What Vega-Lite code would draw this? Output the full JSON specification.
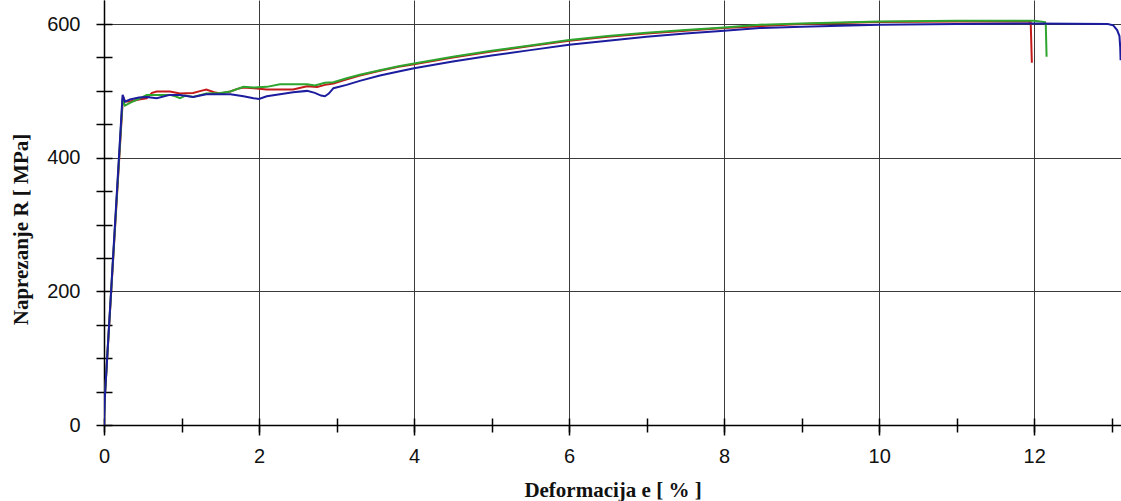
{
  "$schema": "https://vega.github.io/schema/vega-lite/v6.json",
  "autosize": "none",
  "width": 1017,
  "height": 425,
  "padding": {"left": 104, "top": 0, "right": 0, "bottom": 76},
  "background": "white",
  "config": {"view": {"stroke": null}},
  "data": {"values": [
    {"s": "1 red", "e": 0, "R": 0}, {"s": "1 red", "e": 0.01, "R": 40}, {"s": "1 red", "e": 0.245, "R": 492}, {"s": "1 red", "e": 0.27, "R": 484}, {"s": "1 red", "e": 0.335, "R": 484}, {"s": "1 red", "e": 0.45, "R": 487}, {"s": "1 red", "e": 0.55, "R": 489}, {"s": "1 red", "e": 0.62, "R": 497}, {"s": "1 red", "e": 0.68, "R": 499}, {"s": "1 red", "e": 0.85, "R": 499}, {"s": "1 red", "e": 0.98, "R": 496}, {"s": "1 red", "e": 1.15, "R": 497}, {"s": "1 red", "e": 1.25, "R": 500}, {"s": "1 red", "e": 1.32, "R": 502}, {"s": "1 red", "e": 1.42, "R": 498}, {"s": "1 red", "e": 1.5, "R": 496}, {"s": "1 red", "e": 1.63, "R": 499}, {"s": "1 red", "e": 1.72, "R": 503}, {"s": "1 red", "e": 1.8, "R": 505}, {"s": "1 red", "e": 1.93, "R": 504}, {"s": "1 red", "e": 2.1, "R": 502}, {"s": "1 red", "e": 2.27, "R": 502}, {"s": "1 red", "e": 2.44, "R": 502}, {"s": "1 red", "e": 2.62, "R": 507}, {"s": "1 red", "e": 2.75, "R": 506}, {"s": "1 red", "e": 2.85, "R": 509}, {"s": "1 red", "e": 2.96, "R": 511}, {"s": "1 red", "e": 3.09, "R": 516}, {"s": "1 red", "e": 3.3, "R": 523}, {"s": "1 red", "e": 3.56, "R": 530}, {"s": "1 red", "e": 3.8, "R": 536}, {"s": "1 red", "e": 4, "R": 540}, {"s": "1 red", "e": 4.5, "R": 550}, {"s": "1 red", "e": 5, "R": 559}, {"s": "1 red", "e": 5.5, "R": 567}, {"s": "1 red", "e": 6, "R": 575}, {"s": "1 red", "e": 6.5, "R": 581}, {"s": "1 red", "e": 7, "R": 586}, {"s": "1 red", "e": 7.5, "R": 590}, {"s": "1 red", "e": 8, "R": 594}, {"s": "1 red", "e": 9, "R": 600}, {"s": "1 red", "e": 10, "R": 603}, {"s": "1 red", "e": 11, "R": 604}, {"s": "1 red", "e": 11.5, "R": 604}, {"s": "1 red", "e": 11.9, "R": 604}, {"s": "1 red", "e": 11.955, "R": 603}, {"s": "1 red", "e": 11.962, "R": 575}, {"s": "1 red", "e": 11.97, "R": 542},
    {"s": "2 green", "e": 0, "R": 0}, {"s": "2 green", "e": 0.01, "R": 40}, {"s": "2 green", "e": 0.24, "R": 488}, {"s": "2 green", "e": 0.27, "R": 478}, {"s": "2 green", "e": 0.335, "R": 482}, {"s": "2 green", "e": 0.45, "R": 488}, {"s": "2 green", "e": 0.55, "R": 494}, {"s": "2 green", "e": 0.68, "R": 494}, {"s": "2 green", "e": 0.85, "R": 494}, {"s": "2 green", "e": 0.92, "R": 492}, {"s": "2 green", "e": 0.98, "R": 489}, {"s": "2 green", "e": 1.05, "R": 493}, {"s": "2 green", "e": 1.15, "R": 491}, {"s": "2 green", "e": 1.25, "R": 494}, {"s": "2 green", "e": 1.32, "R": 496}, {"s": "2 green", "e": 1.5, "R": 497}, {"s": "2 green", "e": 1.63, "R": 499}, {"s": "2 green", "e": 1.8, "R": 506}, {"s": "2 green", "e": 1.93, "R": 505}, {"s": "2 green", "e": 2.1, "R": 506}, {"s": "2 green", "e": 2.27, "R": 510}, {"s": "2 green", "e": 2.44, "R": 510}, {"s": "2 green", "e": 2.53, "R": 510}, {"s": "2 green", "e": 2.62, "R": 510}, {"s": "2 green", "e": 2.72, "R": 508}, {"s": "2 green", "e": 2.85, "R": 512}, {"s": "2 green", "e": 2.96, "R": 513}, {"s": "2 green", "e": 3.13, "R": 519}, {"s": "2 green", "e": 3.3, "R": 524}, {"s": "2 green", "e": 3.56, "R": 531}, {"s": "2 green", "e": 3.8, "R": 537}, {"s": "2 green", "e": 4, "R": 541}, {"s": "2 green", "e": 4.5, "R": 551}, {"s": "2 green", "e": 5, "R": 560}, {"s": "2 green", "e": 5.5, "R": 568}, {"s": "2 green", "e": 6, "R": 576}, {"s": "2 green", "e": 6.5, "R": 582}, {"s": "2 green", "e": 7, "R": 587}, {"s": "2 green", "e": 7.5, "R": 591}, {"s": "2 green", "e": 8, "R": 595}, {"s": "2 green", "e": 8.46, "R": 599}, {"s": "2 green", "e": 9, "R": 601}, {"s": "2 green", "e": 10, "R": 604}, {"s": "2 green", "e": 11, "R": 605}, {"s": "2 green", "e": 11.5, "R": 605}, {"s": "2 green", "e": 12, "R": 605}, {"s": "2 green", "e": 12.14, "R": 603}, {"s": "2 green", "e": 12.15, "R": 598}, {"s": "2 green", "e": 12.16, "R": 551},
    {"s": "3 blue", "e": 0, "R": 0}, {"s": "3 blue", "e": 0.01, "R": 40}, {"s": "3 blue", "e": 0.24, "R": 494}, {"s": "3 blue", "e": 0.27, "R": 484}, {"s": "3 blue", "e": 0.335, "R": 487}, {"s": "3 blue", "e": 0.45, "R": 490}, {"s": "3 blue", "e": 0.55, "R": 491}, {"s": "3 blue", "e": 0.68, "R": 489}, {"s": "3 blue", "e": 0.85, "R": 494}, {"s": "3 blue", "e": 0.98, "R": 494}, {"s": "3 blue", "e": 1.15, "R": 491}, {"s": "3 blue", "e": 1.32, "R": 495}, {"s": "3 blue", "e": 1.5, "R": 495}, {"s": "3 blue", "e": 1.63, "R": 495}, {"s": "3 blue", "e": 1.8, "R": 492}, {"s": "3 blue", "e": 1.93, "R": 489}, {"s": "3 blue", "e": 2.0, "R": 488}, {"s": "3 blue", "e": 2.1, "R": 492}, {"s": "3 blue", "e": 2.27, "R": 495}, {"s": "3 blue", "e": 2.44, "R": 498}, {"s": "3 blue", "e": 2.62, "R": 500}, {"s": "3 blue", "e": 2.72, "R": 497}, {"s": "3 blue", "e": 2.8, "R": 493}, {"s": "3 blue", "e": 2.85, "R": 492}, {"s": "3 blue", "e": 2.9, "R": 496}, {"s": "3 blue", "e": 2.96, "R": 504}, {"s": "3 blue", "e": 3.13, "R": 509}, {"s": "3 blue", "e": 3.3, "R": 515}, {"s": "3 blue", "e": 3.56, "R": 523}, {"s": "3 blue", "e": 3.8, "R": 529}, {"s": "3 blue", "e": 4, "R": 534}, {"s": "3 blue", "e": 4.5, "R": 544}, {"s": "3 blue", "e": 5, "R": 553}, {"s": "3 blue", "e": 5.5, "R": 561}, {"s": "3 blue", "e": 6, "R": 569}, {"s": "3 blue", "e": 6.5, "R": 575}, {"s": "3 blue", "e": 7, "R": 581}, {"s": "3 blue", "e": 7.5, "R": 586}, {"s": "3 blue", "e": 8, "R": 590}, {"s": "3 blue", "e": 8.46, "R": 594}, {"s": "3 blue", "e": 9, "R": 596}, {"s": "3 blue", "e": 10, "R": 599}, {"s": "3 blue", "e": 11, "R": 600}, {"s": "3 blue", "e": 12, "R": 601}, {"s": "3 blue", "e": 12.95, "R": 600}, {"s": "3 blue", "e": 13.02, "R": 598}, {"s": "3 blue", "e": 13.07, "R": 591}, {"s": "3 blue", "e": 13.1, "R": 582}, {"s": "3 blue", "e": 13.11, "R": 565}, {"s": "3 blue", "e": 13.115, "R": 546}
  ]},
  "resolve": {"axis": {"x": "independent", "y": "independent"}},
  "layer": [
    {
      "mark": {"type": "line", "strokeOpacity": 0, "clip": true},
      "encoding": {
        "x": {"field": "e", "type": "quantitative", "scale": {"domain": [0, 13.12], "nice": false, "zero": false},
          "axis": {"orient": "bottom", "values": [0, 2, 4, 6, 8, 10, 12], "grid": true, "gridColor": "#3a3a3a", "gridWidth": 1, "domain": true, "domainColor": "#000000", "domainWidth": 1.5, "ticks": true, "tickSize": 10, "tickColor": "#000000", "tickWidth": 1.5, "labelPadding": 11, "labelFont": "Liberation Sans", "labelFontSize": 20, "labelColor": "#111111", "labelFlush": false, "title": "Deformacija e [ % ]", "titleFont": "Liberation Serif", "titleFontSize": 21, "titleFontWeight": "bold", "titleColor": "#111111", "titlePadding": 13}},
        "y": {"field": "R", "type": "quantitative", "scale": {"domain": [0, 636], "nice": false},
          "axis": {"orient": "left", "values": [0, 200, 400, 600], "grid": true, "gridColor": "#3a3a3a", "gridWidth": 1, "domain": true, "domainColor": "#000000", "domainWidth": 1.5, "ticks": false, "labelPadding": 24, "labelFont": "Liberation Sans", "labelFontSize": 20, "labelColor": "#111111", "labelFlush": false, "title": "Naprezanje R [ MPa]", "titleFont": "Liberation Serif", "titleFontSize": 21, "titleFontWeight": "bold", "titleColor": "#111111", "titlePadding": 15, "titleY": 229}},
        "detail": {"field": "s", "type": "nominal"}
      }
    },
    {
      "mark": {"type": "line", "strokeWidth": 2, "clip": true},
      "encoding": {
        "x": {"field": "e", "type": "quantitative",
          "axis": {"orient": "bottom", "values": [0, 1, 2, 3, 4, 5, 6, 7, 8, 9, 10, 11, 12, 13], "offset": -7, "grid": false, "domain": false, "ticks": true, "tickSize": 14, "tickColor": "#000000", "tickWidth": 1.5, "labels": false, "title": null}},
        "y": {"field": "R", "type": "quantitative",
          "axis": {"orient": "left", "values": [0, 50, 100, 150, 200, 250, 300, 350, 400, 450, 500, 550, 600], "offset": -8, "grid": false, "domain": false, "ticks": true, "tickSize": 16, "tickColor": "#000000", "tickWidth": 1.5, "labels": false, "title": null}},
        "color": {"field": "s", "type": "nominal", "legend": null,
          "scale": {"domain": ["1 red", "2 green", "3 blue"], "range": ["#c41a1a", "#2ea52e", "#1c1c9e"]}}
      }
    }
  ]
}
